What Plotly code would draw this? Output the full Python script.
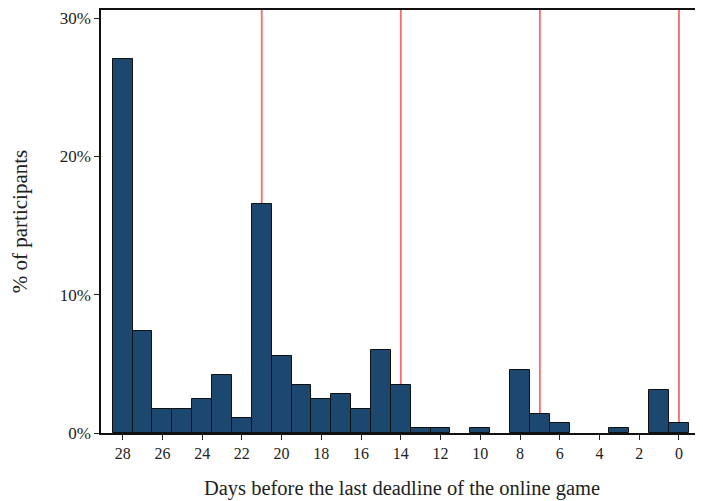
import plotly.graph_objects as go

days = list(range(28, -1, -1))
pct = [27.05, 7.37, 1.75, 1.75, 2.47, 4.2, 1.06, 16.54, 5.59, 3.5, 2.47, 2.81, 1.75, 5.98, 3.5,
       0.34, 0.34, 0.0, 0.34, 0.0, 4.58, 1.41, 0.70, 0.0, 0.0, 0.34, 0.0, 3.14, 0.70]
deadlines = [21, 14, 7, 0]
x_ticks = list(range(28, -1, -2))
y_ticks = [0, 10, 20, 30]

FONT = "Liberation Serif"

fig = go.Figure()
fig.add_trace(go.Bar(
    x=days, y=pct, width=1,
    marker=dict(color="#1c4870",
                line=dict(color="#111111", width=[1 if v > 0 else 0 for v in pct])),
    hoverinfo="x+y",
))
for d in deadlines:
    fig.add_shape(type="line", x0=d, x1=d, y0=0, y1=1, xref="x", yref="paper",
                  line=dict(color="#f76b6b", width=1.8), layer="below")

fig.update_layout(
    width=695, height=493,
    margin=dict(l=93, r=0, t=0, b=68),
    plot_bgcolor="white", paper_bgcolor="white",
    bargap=0, showlegend=False,
    font=dict(family=FONT, color="#222222", size=16),
    xaxis=dict(
        range=[29.09, -1.21], tickvals=x_ticks, ticktext=[str(t) for t in x_ticks],
        ticks="outside", ticklen=5, tickcolor="#222222", showgrid=False, zeroline=False,
        showline=True, linecolor="#111111", linewidth=1.5, mirror=True,
        tickfont=dict(size=16, family=FONT),
        title=dict(text="Days before the last deadline of the online game",
                   font=dict(size=20.5, family=FONT), standoff=20),
    ),
    yaxis=dict(
        range=[0, 30.6], tickvals=y_ticks, ticktext=[f"{t}%" for t in y_ticks],
        ticks="outside", ticklen=5, tickcolor="#222222", showgrid=False, zeroline=False,
        showline=True, linecolor="#111111", linewidth=1.5,
        tickfont=dict(size=17, family=FONT),
        title=dict(text="% of participants", font=dict(size=21, family=FONT), standoff=26),
    ),
)

fig.write_html("out.html")
